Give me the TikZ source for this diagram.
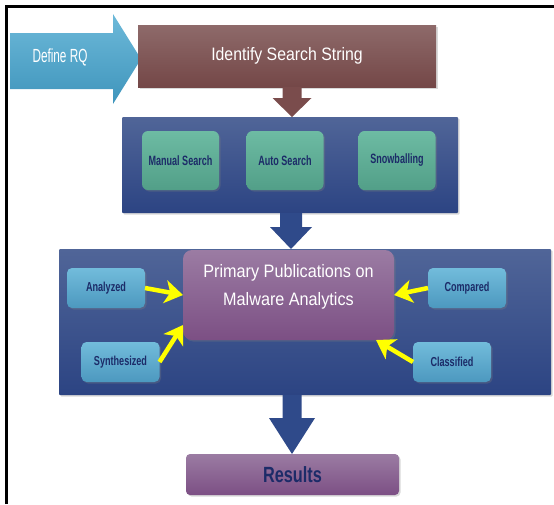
\documentclass[tikz,border=0pt]{standalone}
\usepackage{fontspec}
\setmainfont{Liberation Sans}
\usepackage{graphicx}
\usetikzlibrary{arrows.meta,shadows,calc}

\definecolor{rqtop}{HTML}{6DB9D9}
\definecolor{rqbot}{HTML}{3F95BC}
\definecolor{brtop}{HTML}{8E6A6A}
\definecolor{brbot}{HTML}{744747}
\definecolor{brarrow}{HTML}{7A4C4C}
\definecolor{bltop}{HTML}{506598}
\definecolor{blbot}{HTML}{2C4483}
\definecolor{blarrow}{HTML}{2F4A8A}
\definecolor{grtop}{HTML}{6DBBA3}
\definecolor{grbot}{HTML}{529F88}
\definecolor{lbtop}{HTML}{72BCDB}
\definecolor{lbbot}{HTML}{4C98BF}
\definecolor{putop}{HTML}{9B7CA3}
\definecolor{pubot}{HTML}{7C4F84}
\definecolor{navy}{HTML}{1C2B68}
\definecolor{yel}{HTML}{FFFF00}

% horizontally condensed text
\newcommand{\squeeze}[2]{\scalebox{#1}[1]{#2}}

% block arrow pointing down: colour, from, to, shaft half width, head half width, head length
\newcommand{\blockdown}[6]{%
  \fill[#1] let \p1=(#2), \p2=(#3) in
    (\x1-#4,\y1) -- (\x1-#4,\y2+#6) -- (\x1-#5,\y2+#6) -- (\x1,\y2)
    -- (\x1+#5,\y2+#6) -- (\x1+#4,\y2+#6) -- (\x1+#4,\y1) -- cycle;}

\begin{document}
\begin{tikzpicture}[x=1pt,y=-1pt,
  every node/.style={inner sep=0pt,outer sep=0pt},
  shadowed/.style={drop shadow={opacity=0.3,shadow xshift=1.5pt,shadow yshift=-1.5pt}},
  panel/.style={top color=bltop,bottom color=blbot,rounded corners=1pt,shadowed},
  stepgreen/.style={top color=grtop,bottom color=grbot,rounded corners=6pt,shadowed,
    minimum width=77pt,minimum height=59pt,text=navy,font=\fontsize{13.5}{16}\selectfont\bfseries},
  facet/.style={top color=lbtop,bottom color=lbbot,rounded corners=5pt,shadowed,
    minimum width=78pt,minimum height=40pt,text=navy,font=\fontsize{13}{16}\selectfont\bfseries},
  purplebox/.style={top color=putop,bottom color=pubot,shadowed},
  hl/.style={draw=yel,line width=4.5pt,-{Stealth[length=18pt,width=23pt,inset=5pt]}},
]
\useasboundingbox (0,0) rectangle (554,504);

% frame lines
\draw[line width=3pt] (6.5,504) -- (6.5,6.5) -- (554,6.5);

% Define RQ arrow
\shade[top color=rqtop,bottom color=rqbot]
  (10,33) -- (113,33) -- (113,14) -- (141,59) -- (113,104) -- (113,89) -- (10,89) -- cycle;
\node[font=\fontsize{19}{22}\selectfont,text=white] (rq) at (60,57.5) {\squeeze{0.62}{Define RQ}};

% Identify search string
\node[top color=brtop,bottom color=brbot,shadowed,minimum width=298pt,minimum height=62pt,
  text=white,font=\fontsize{18}{21}\selectfont] (idss) at (287,56) {\squeeze{0.88}{Identify Search String}};

% search panel
\node[panel,minimum width=336pt,minimum height=96pt] (search) at (290,165) {};
\blockdown{brarrow}{[xshift=5pt]idss.south}{search.north}{9.5pt}{19.5pt}{19pt}
\node[stepgreen] (manual) at (180.5,160.5) {\squeeze{0.67}{Manual Search}};
\node[stepgreen] (auto) at (285,160.5) {\squeeze{0.67}{Auto Search}};
\node[stepgreen] (snow) at (397,160.5) {\squeeze{0.67}{Snowballing}};

% review panel
\node[panel,minimum width=492pt,minimum height=146pt] (review) at (305,322) {};
\blockdown{blarrow}{[xshift=1pt]search.south}{review.north}{11pt}{21pt}{22pt}

\node[purplebox,rounded corners=9pt,minimum width=211pt,minimum height=90pt] (pp) at (288.5,295) {};
\node[text=white,align=center,font=\fontsize{18}{28}\selectfont] (pptext) at ([yshift=8pt]pp.center)
  {\squeeze{0.9}{Primary Publications on}\\\squeeze{0.9}{Malware Analytics}};

\node[facet] (ana) at (106,288) {\squeeze{0.7}{Analyzed}};
\node[facet] (syn) at (120.5,362) {\squeeze{0.7}{Synthesized}};
\node[facet] (cmp) at (467,288) {\squeeze{0.7}{Compared}};
\node[facet] (cls) at (452,362) {\squeeze{0.7}{Classified}};

\draw[hl] (ana.east) -- (pp.west);
\draw[hl] (syn.east) -- ([yshift=15pt]pp.south west);
\draw[hl] (cmp.west) -- (pp.east);
\draw[hl] (cls.west) -- ([xshift=-18pt]pp.south east);

% results
\node[purplebox,rounded corners=4pt,minimum width=213pt,minimum height=41pt,
  text=navy,font=\fontsize{22}{26}\selectfont\bfseries] (res) at (292.5,474.5) {\squeeze{0.74}{Results}};
\blockdown{blarrow}{[xshift=-13pt]review.south}{res.north}{9.5pt}{23pt}{36pt}
\end{tikzpicture}
\end{document}
